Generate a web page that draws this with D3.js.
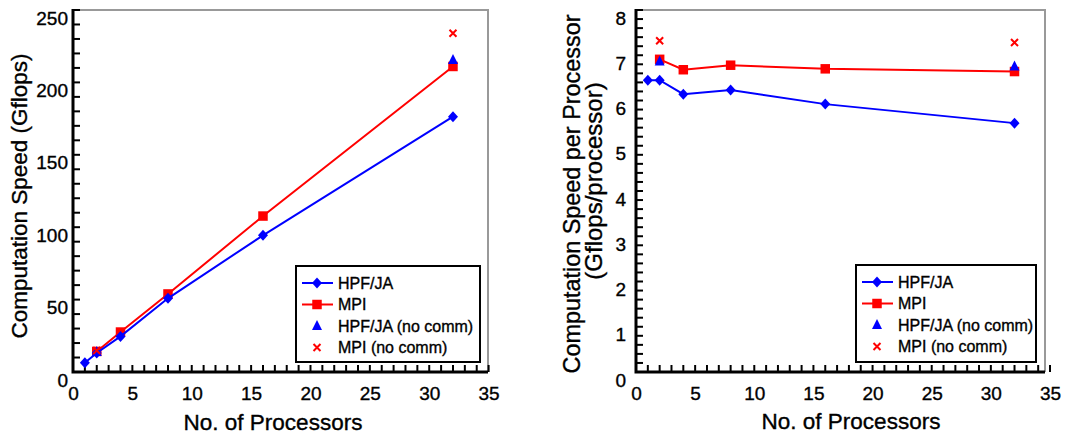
<!DOCTYPE html>
<html>
<head>
<meta charset="utf-8">
<script src="https://cdn.jsdelivr.net/npm/d3@7"></script>
<style>
  body { margin: 0; background: #fff; }
  text { font-family: "Liberation Sans", Arial, sans-serif; fill: #000; stroke: #000; stroke-width: 0.35px; }
</style>
</head>
<body>
<svg id="chart" width="1070" height="437"></svg>
<script>
// processors
var procs = [1, 2, 4, 8, 16, 32];
var procsMpi = [2, 4, 8, 16, 32];
var procsNoComm = [2, 32];

// left panel: total speed (Gflops)
var hpfSpeed = [6.4, 13.1, 24.6, 50.9, 94.4, 176.3];
var mpiSpeed = [14.2, 27.6, 53.9, 107.7, 211];
var hpfNoCommSpeed = [13.8, 215.5];
var mpiNoCommSpeed = [14.8, 234];

// right panel: speed per processor (Gflops/processor)
var hpfPer = [6.45, 6.45, 6.14, 6.23, 5.92, 5.5];
var mpiPer = [6.91, 6.68, 6.78, 6.7, 6.64];
var hpfNoCommPer = [6.86, 6.75];
var mpiNoCommPer = [7.32, 7.28];

var legendLabels = ["HPF/JA", "MPI", "HPF/JA (no comm)", "MPI (no comm)"];

var svg = d3.select("#chart");

function drawPanel(cfg) {
  var x = d3.scaleLinear().domain([0, 35]).range([cfg.x0, cfg.x1]);
  var y = d3.scaleLinear().domain([0, cfg.yMax]).range([cfg.y0, cfg.y1]);
  var g = svg.append("g");

  // gray frame top/right
  g.append("path")
      .attr("d", "M" + cfg.x0 + "," + cfg.y1 + "H" + cfg.frameRight + "V" + cfg.y0)
      .attr("fill", "none").attr("stroke", "#999").attr("stroke-width", 2);

  // y axis labels (major steps), shifted down like the original
  var yMajors = d3.range(0, cfg.yMax + cfg.yMajor / 2, cfg.yMajor);
  var ya = g.append("g").attr("transform", "translate(" + cfg.x0 + ",0)")
      .call(d3.axisLeft(y).tickValues(yMajors).tickSize(0).tickPadding(cfg.labelPad).tickFormat(d3.format("d")));
  ya.select(".domain").remove();
  ya.selectAll("text").attr("font-size", 19).attr("dy", "0.32em")
      .attr("transform", "translate(0,8)").attr("font-family", "Liberation Sans, Arial, sans-serif");

  // y minor ticks pointing inward
  var yTicks = d3.range(0, cfg.yMax + cfg.yMinor / 2, cfg.yMinor);
  g.append("g").selectAll("line").data(yTicks).enter().append("line")
      .attr("x1", cfg.x0).attr("x2", cfg.x0 + 7)
      .attr("y1", function (d) { return y(d); }).attr("y2", function (d) { return y(d); })
      .attr("stroke", "#000").attr("stroke-width", 2);

  // x axis labels every 5
  var xa = g.append("g").attr("transform", "translate(0," + cfg.y0 + ")")
      .call(d3.axisBottom(x).tickValues(d3.range(0, 36, 5)).tickSize(0).tickPadding(15));
  xa.select(".domain").remove();
  xa.selectAll("text").attr("font-size", 19).attr("font-family", "Liberation Sans, Arial, sans-serif");

  // x ticks every processor, pointing up
  g.append("g").selectAll("line").data(d3.range(1, 36, 1)).enter().append("line")
      .attr("x1", function (d) { return x(d); }).attr("x2", function (d) { return x(d); })
      .attr("y1", cfg.y0).attr("y2", cfg.y0 - 7)
      .attr("stroke", "#000").attr("stroke-width", 2);

  // black axis lines
  g.append("path")
      .attr("d", "M" + cfg.x0 + "," + (cfg.y1 - 1) + "V" + cfg.y0 + "H" + cfg.frameRight)
      .attr("fill", "none").attr("stroke", "#000").attr("stroke-width", 3);

  var line = d3.line().x(function (d) { return x(d[0]); }).y(function (d) { return y(d[1]); });

  function series(xs, ys, color, shape, withLine) {
    var pts = xs.map(function (v, i) { return [v, ys[i]]; });
    if (withLine) {
      g.append("path").datum(pts).attr("d", line)
          .attr("fill", "none").attr("stroke", color).attr("stroke-width", 2);
    }
    g.selectAll(null).data(pts).enter().append("path")
        .attr("transform", function (d) { return "translate(" + x(d[0]) + "," + y(d[1]) + ")"; })
        .each(function () { marker(d3.select(this), shape, color); });
  }

  series(procsMpi, cfg.mpi, "#ff0000", "square", true);
  series(procs, cfg.hpf, "#0000ff", "diamond", true);
  series(procsNoComm, cfg.hpfNc, "#0000ff", "triangle", false);
  series(procsNoComm, cfg.mpiNc, "#ff0000", "cross", false);

  // legend
  var lg = g.append("g");
  lg.append("rect").attr("x", cfg.lg[0]).attr("y", cfg.lg[1]).attr("width", cfg.lg[2]).attr("height", cfg.lg[3])
      .attr("fill", "#fff").attr("stroke", "#000").attr("stroke-width", 2);
  var rows = [
    { c: "#0000ff", s: "diamond", l: true },
    { c: "#ff0000", s: "square", l: true },
    { c: "#0000ff", s: "triangle", l: false },
    { c: "#ff0000", s: "cross", l: false }
  ];
  rows.forEach(function (r, i) {
    var ry = cfg.lg[1] + 17 + i * 21.5;
    var lx = cfg.lg[0] + 6;
    if (r.l) {
      lg.append("line").attr("x1", lx).attr("x2", lx + 31).attr("y1", ry).attr("y2", ry)
          .attr("stroke", r.c).attr("stroke-width", 2);
    }
    var m = lg.append("path").attr("transform", "translate(" + (lx + 15) + "," + ry + ")");
    marker(m, r.s, r.c);
    lg.append("text").attr("x", lx + 36).attr("y", ry).attr("dy", "0.36em")
        .attr("font-size", 16).text(legendLabels[i]);
  });

  // titles
  g.append("text").attr("x", cfg.xt[0]).attr("y", cfg.xt[1]).attr("text-anchor", "middle")
      .attr("dy", "0.35em").attr("font-size", 22.5).text("No. of Processors");
  cfg.yt.forEach(function (t) {
    g.append("text").attr("transform", "translate(" + t.x + "," + t.y + ")rotate(-90)")
        .attr("text-anchor", "middle").attr("dy", "0.35em").attr("font-size", t.size).text(t.text);
  });
}

function marker(sel, shape, color) {
  var p;
  if (shape === "diamond") p = "M0,-5.5L5,0L0,5.5L-5,0Z";
  else if (shape === "square") p = "M-4.75,-4.75H4.75V4.75H-4.75Z";
  else if (shape === "triangle") p = "M0,-6L5,4H-5Z";
  else p = "M-3.5,-3.5L3.5,3.5M3.5,-3.5L-3.5,3.5";
  sel.attr("d", p);
  if (shape === "cross") sel.attr("fill", "none").attr("stroke", color).attr("stroke-width", 2);
  else sel.attr("fill", color).attr("stroke", "none");
}

drawPanel({
  x0: 73, x1: 488.6, frameRight: 488, y0: 372, y1: 10, yMax: 250, yMinor: 10, yMajor: 50, labelPad: 5,
  hpf: hpfSpeed, mpi: mpiSpeed, hpfNc: hpfNoCommSpeed, mpiNc: mpiNoCommSpeed,
  lg: [296, 266, 184, 96],
  xt: [273, 422],
  yt: [{ x: 19, y: 196, size: 22.5, text: "Computation Speed (Gflops)" }]
});

drawPanel({
  x0: 636, x1: 1050, frameRight: 1045, y0: 372, y1: 10, yMax: 8, yMinor: 0.2, yMajor: 1, labelPad: 10,
  hpf: hpfPer, mpi: mpiPer, hpfNc: hpfNoCommPer, mpiNc: mpiNoCommPer,
  lg: [856, 265, 180, 97],
  xt: [851, 421],
  yt: [
    { x: 572, y: 194, size: 23.4, text: "Computation Speed per Processor" },
    { x: 594, y: 181, size: 24, text: "(Gflops/processor)" }
  ]
});
</script>
</body>
</html>
